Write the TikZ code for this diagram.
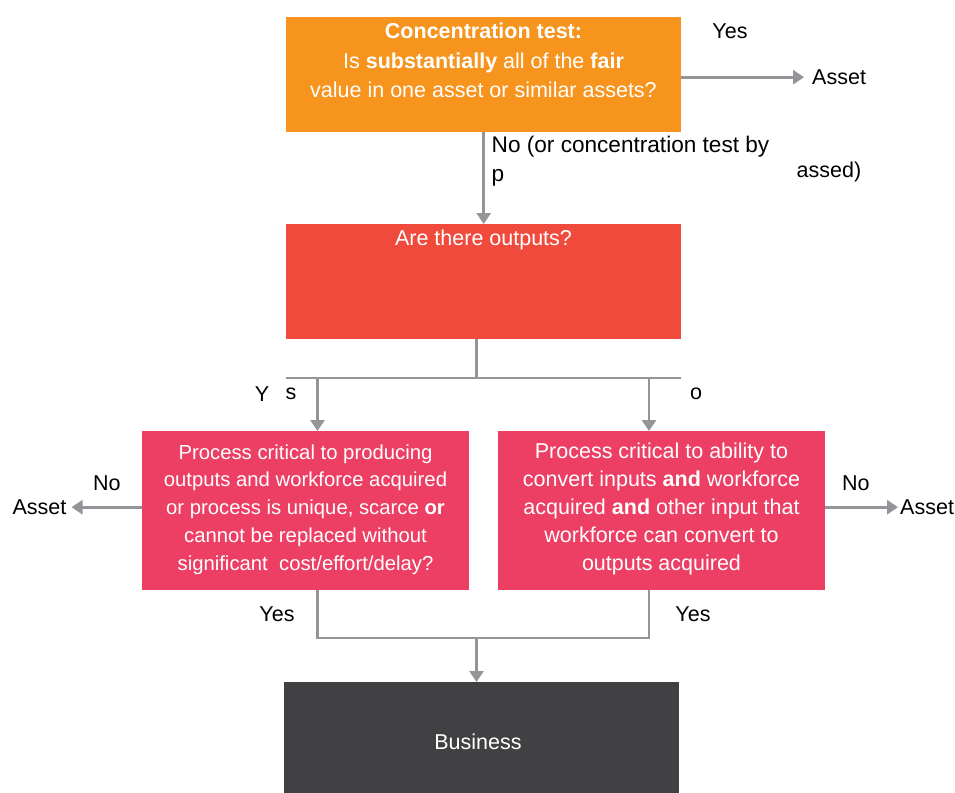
\documentclass[tikz,border=0pt]{standalone}
\usepackage{fontspec}
\setmainfont{Liberation Sans}
\usetikzlibrary{arrows.meta}
\definecolor{corange}{HTML}{F7941D}
\definecolor{cred}{HTML}{EF4A3C}
\definecolor{cpink}{HTML}{EC3F63}
\definecolor{cdark}{HTML}{414042}
\definecolor{cgray}{HTML}{939598}
\newcommand\myfs{\fontsize{21.5}{27.8}\selectfont}
\begin{document}
\begin{tikzpicture}[x=1pt,y=-1pt,
  box/.style={draw=none, inner sep=0pt, anchor=north west, text=white},
  boxtext/.style={inner sep=0pt, text=white, align=center, font=\myfs},
  lbl/.style={inner sep=0pt, text=black, font=\myfs},
  ln/.style={draw=cgray, line width=2.8pt},
  arr/.style={draw=cgray, line width=2.8pt, -{Triangle[width=14pt,length=11pt]}}]
\useasboundingbox (0,0) rectangle (955,792);

% boxes
\node[box, fill=corange, minimum width=395pt, minimum height=115pt] (conc) at (286,17) {};
\node[boxtext, font=\fontsize{21.5}{29.5}\selectfont] (conctext) at (483.5,60.5)
  {\textbf{Concentration test:}\\Is \textbf{substantially} all of the \textbf{fair}\\value in one asset or similar assets?};
\node[box, fill=cred, minimum width=395pt, minimum height=115pt] (outq) at (286,224) {};
\node[boxtext] (outqtext) at (483.5,240) {Are there outputs?};
\node[box, fill=cpink, minimum width=327pt, minimum height=159pt] (lbox) at (142,431) {};
\node[boxtext, font=\fontsize{20.3}{27.8}\selectfont] (lboxtext) at (305.5,509.5)
  {Process critical to producing\\outputs and workforce acquired\\or process is unique, scarce \textbf{or}\\cannot be replaced without\\significant\ \ cost/effort/delay?};
\node[box, fill=cpink, minimum width=327pt, minimum height=159pt] (rbox) at (498,431) {};
\node[boxtext] (rboxtext) at (661.5,509)
  {Process critical to ability to\\convert inputs \textbf{and} workforce\\acquired \textbf{and} other input that\\workforce can convert to\\outputs acquired};
\node[box, fill=cdark, minimum width=395pt, minimum height=120pt] (biz) at (284,682) {};
\node[boxtext] (biztext) at (478,742) {Business};

% labels
\node[lbl] (yes1) at (730,31) {Yes};
\node[lbl, anchor=west] (asset1) at (812,77) {Asset};
\node[lbl, anchor=west, align=left, font=\fontsize{22.6}{29}\selectfont] (nolbl) at (491.5,161.5) {No (or concentration test by\\p};
\node[lbl] (assed) at (829,172) {assed)};
\node[lbl] (ylbl) at (262,394) {Y};
\node[lbl] (slbl) at (291,394) {s};
\node[lbl] (olbl) at (696,394) {o};
\node[lbl, anchor=west] (no2) at (93,483) {No};
\node[lbl, anchor=east] (asset2) at (66.5,507) {Asset};
\node[lbl, anchor=west] (no3) at (842,483) {No};
\node[lbl, anchor=west] (asset3) at (900,507) {Asset};
\node[lbl] (yes2) at (277,614) {Yes};
\node[lbl] (yes3) at (693,614) {Yes};

% junction points
\coordinate (split) at (476.5,378);
\coordinate (ly) at (317.5,378);
\coordinate (ry) at (649,378);
\coordinate (join) at (476.5,638);

% connectors
\draw[arr] ([yshift=-2.5pt]conc.east) -- ([xshift=-8pt,yshift=-2.5pt]asset1.west |- conc.east);
\draw[arr] (conc.south) -- (outq.north);
\draw[ln] (outq.south -| split) -- (split);
\draw[ln] (outq.south west |- split) -- (outq.south east |- split);
\draw[arr] (ly) -- (ly |- lbox.north);
\draw[arr] (ry) -- (ry |- rbox.north);
\draw[arr] ([yshift=3.5pt]lbox.west) -- ([xshift=5pt,yshift=3.5pt]asset2.east |- lbox.west);
\draw[arr] ([yshift=3.5pt]rbox.east) -- ([xshift=-2pt,yshift=3.5pt]asset3.west |- rbox.east);
\draw[ln] (lbox.south -| ly) -- (ly |- join) -- (ry |- join) -- (rbox.south -| ry);
\draw[arr] (join) -- (join |- biz.north);
\end{tikzpicture}
\end{document}
